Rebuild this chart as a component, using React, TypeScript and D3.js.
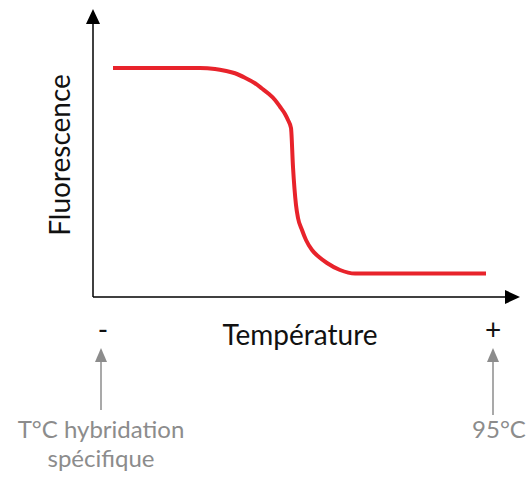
import React, { useEffect, useRef } from 'react';
import * as d3 from 'd3';

// temperature in arbitrary units (0-100), fluorescence in arbitrary units (0-100)
const temperature = [5, 26.75, 30.5, 33, 35.5, 38, 40.5, 42.25, 43.75, 45.5, 46.75, 48, 48.75, 49.5, 50, 50.75, 51.25, 52.25, 53.25, 54.75, 56.5, 58.5, 61.75, 65.5, 98.25];
const fluorescence = [91.6, 91.6, 91.2, 90.5, 89.5, 87.7, 85.5, 83.4, 81.5, 78.8, 76.1, 73.2, 70.8, 67.6, 52, 36.8, 31.6, 26.8, 22.8, 18.8, 16, 13.6, 10.8, 9.4, 9.4];

const xEnds = ['-', '+'];
const notes = [['T°C hybridation', 'spécifique'], ['95°C']];

const W = 528;
const H = 477;

export default function App() {
  const ref = useRef<SVGSVGElement>(null);

  useEffect(() => {
    const svg = d3.select(ref.current);
    svg.selectAll('*').remove();

    const x = d3.scaleLinear().domain([0, 100]).range([93, 493]);
    const y = d3.scaleLinear().domain([0, 100]).range([297, 47]);
    const font = 'Lato, "Open Sans", sans-serif';

    // axes with arrow heads
    svg.append('line').attr('x1', 93).attr('y1', 297).attr('x2', 93).attr('y2', 20)
      .attr('stroke', '#000').attr('stroke-width', 1.5);
    svg.append('path').attr('d', 'M86,24 L93,9 L100,24 Z').attr('fill', '#000');
    svg.append('line').attr('x1', 93).attr('y1', 297).attr('x2', 510).attr('y2', 297)
      .attr('stroke', '#000').attr('stroke-width', 1.5);
    svg.append('path').attr('d', 'M505,290 L520,297 L505,304 Z').attr('fill', '#000');

    const data = temperature.map((t, i) => [t, fluorescence[i]] as [number, number]);
    const line = d3.line<[number, number]>()
      .x(d => x(d[0]))
      .y(d => y(d[1]))
      .curve(d3.curveMonotoneX);

    svg.append('path')
      .attr('d', line(data))
      .attr('fill', 'none')
      .attr('stroke', '#e8232b')
      .attr('stroke-width', 4)
      .attr('stroke-linejoin', 'round');

    svg.append('text')
      .attr('transform', 'translate(70,155) rotate(-90)')
      .attr('text-anchor', 'middle')
      .attr('font-family', font)
      .attr('font-size', 28)
      .attr('fill', '#111')
      .text('Fluorescence');

    svg.append('text')
      .attr('x', 300).attr('y', 345)
      .attr('text-anchor', 'middle')
      .attr('font-family', font)
      .attr('font-size', 28)
      .attr('fill', '#111')
      .text('Température');

    const endX = [103, 493];
    svg.selectAll('.end')
      .data(xEnds)
      .join('text')
      .attr('class', 'end')
      .attr('x', (d, i) => endX[i])
      .attr('y', 340)
      .attr('text-anchor', 'middle')
      .attr('font-family', font)
      .attr('font-size', 28)
      .attr('fill', '#111')
      .text(d => d);

    // gray arrows pointing up to the ends
    const arrowX = [101, 493];
    const arrowBottom = [410, 415];
    arrowX.forEach((ax, i) => {
      svg.append('line').attr('x1', ax).attr('y1', 360).attr('x2', ax).attr('y2', arrowBottom[i])
        .attr('stroke', '#8c8c8c').attr('stroke-width', 1.5);
      svg.append('path').attr('d', `M${ax - 6},362 L${ax},348 L${ax + 6},362 Z`).attr('fill', '#8c8c8c');
    });

    const noteX = [101, 499];
    notes.forEach((lines, i) => {
      const t = svg.append('text')
        .attr('x', noteX[i]).attr('y', 438)
        .attr('text-anchor', 'middle')
        .attr('font-family', font)
        .attr('font-size', 24)
        .attr('fill', '#8c8c8c');
      lines.forEach((l, j) => {
        t.append('tspan').attr('x', noteX[i]).attr('dy', j === 0 ? 0 : 29).text(l);
      });
    });
  }, []);

  return (
    <svg ref={ref} width={W} height={H} style={{ position: 'absolute', left: 0, top: 0 }} />
  );
}
